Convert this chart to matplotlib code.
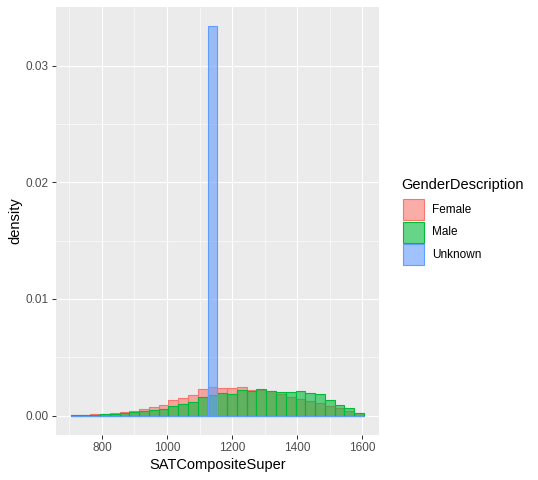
import numpy as np
import matplotlib
matplotlib.use("Agg")
import matplotlib.pyplot as plt
from matplotlib.patches import Rectangle

plt.rcParams['font.family'] = ['Liberation Sans', 'DejaVu Sans']

# ---- data ----
bin_edges = np.linspace(704, 1605, 31)
groups = ["Female", "Male", "Unknown"]
colors = ["#F8766D", "#00BA38", "#619CFF"]

female = [0.000086, 0.000086, 0.000111, 0.000146, 0.000231, 0.000317, 0.000429, 0.000557,
          0.000728, 0.000943, 0.001371, 0.001543, 0.001757, 0.002288, 0.002425, 0.00234,
          0.00234, 0.00246, 0.002185, 0.002168, 0.0021, 0.001825, 0.001611, 0.00144,
          0.001243, 0.001054, 0.000814, 0.000626, 0.000429, 0.000214]
male = [0.00006, 0.000086, 0.000086, 0.000111, 0.000171, 0.000231, 0.000283, 0.000369,
        0.000471, 0.0006, 0.00084, 0.001028, 0.0012, 0.001628, 0.0018, 0.001971,
        0.001843, 0.002168, 0.0021, 0.002314, 0.0021, 0.002057, 0.002057, 0.002125,
        0.001945, 0.001868, 0.001371, 0.000926, 0.000651, 0.000257]
unknown = [0.0] * 14 + [0.03337] + [0.0] * 15

x_ticks = [800, 1000, 1200, 1400, 1600]
x_minor = [700, 900, 1100, 1300, 1500]
y_ticks = [0.00, 0.01, 0.02, 0.03]
y_minor = [0.005, 0.015, 0.025]
y_ticklabels = ["0.00", "0.01", "0.02", "0.03"]

W, H = 538, 480
# ---- figure ----
fig = plt.figure(figsize=(W/100, H/100), dpi=100)
pl, pr, pt, pb = 56, 378.7, 7, 435
ax = fig.add_axes([pl/W, 1-pb/H, (pr-pl)/W, (pb-pt)/H])
ax.set_facecolor("#EBEBEB")
for s in ax.spines.values():
    s.set_visible(False)

widths = np.diff(bin_edges)
for vals, col in zip([female, male, unknown], colors):
    ax.bar(bin_edges[:-1], vals, width=widths, align='edge',
           facecolor=matplotlib.colors.to_rgba(col, 0.6), edgecolor=col,
           linewidth=0.8, zorder=3)

xr = bin_edges[-1] - bin_edges[0]
ax.set_xlim(bin_edges[0] - 0.05*xr, bin_edges[-1] + 0.05*xr)
ymax = max(max(female), max(male), max(unknown))
ax.set_ylim(-0.05*ymax, 1.05*ymax)

ax.set_xticks(x_ticks)
ax.set_xticks(x_minor, minor=True)
ax.set_yticks(y_ticks)
ax.set_yticklabels(y_ticklabels)
ax.set_yticks(y_minor, minor=True)
ax.grid(True, which='major', color='white', linewidth=0.8, zorder=0)
ax.grid(True, which='minor', color='white', linewidth=0.4, zorder=0)
ax.set_axisbelow(True)
ax.tick_params(which='major', length=3.2, width=0.75, color='#333333',
               labelsize=8.45, labelcolor='#4D4D4D', pad=2)
ax.tick_params(which='minor', length=0)

ax.set_xlabel("SATCompositeSuper", fontsize=10.56, color='black', labelpad=2.5)
ax.set_ylabel("density", fontsize=10.56, color='black', labelpad=2.5)

# ---- legend (ggplot-style, drawn in figure pixel layout) ----
def fx(px):
    return px / W

def fy(py):
    return 1 - py / H

fig.text(fx(401.7), fy(185), "GenderDescription", fontsize=10.56, color='black',
         ha='left', va='center')
key_left, key_size, key_top = 402, 22.5, 198.5
for i, (g, c) in enumerate(zip(groups, colors)):
    top = key_top + i * key_size
    fig.add_artist(Rectangle((fx(key_left + 0.6), fy(top + key_size - 0.6)),
                             (key_size - 1.2) / W, (key_size - 1.2) / H,
                             transform=fig.transFigure,
                             facecolor=matplotlib.colors.to_rgba(c, 0.6),
                             edgecolor=c, linewidth=0.8))
    fig.text(fx(431.7), fy(top + key_size / 2), g, fontsize=8.45, color='black',
             ha='left', va='center')

fig.savefig("out.png", dpi=100)
